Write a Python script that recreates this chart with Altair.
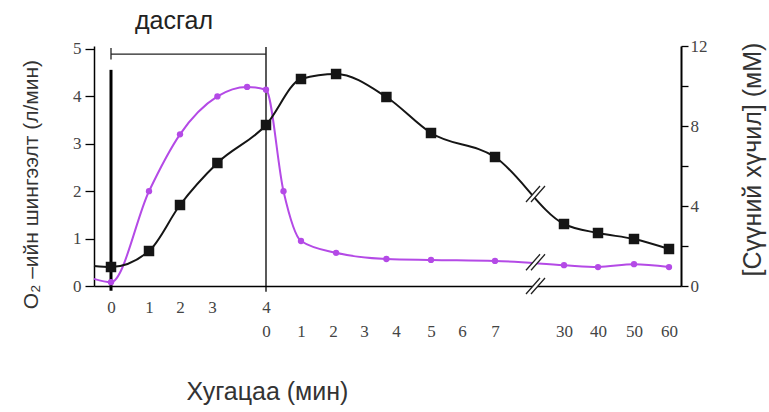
import altair as alt
import pandas as pd

# ---- data -------------------------------------------------------------
# O2 uptake (L/min). Exercise phase: minutes from the start of exercise.
EX_T_O2 = [0, 1, 2, 3.1, 3.65, 4]
EX_O2 = [0.08, 2.0, 3.2, 4.0, 4.2, 4.14]
# Recovery phase: minutes after exercise stopped.
REC_T_O2 = [0.5, 1, 2.1, 3.7, 5, 7, 30, 40, 50, 60]
REC_O2 = [2.0, 0.95, 0.70, 0.57, 0.55, 0.53, 0.44, 0.40, 0.46, 0.40]
REST_O2 = 0.15

# Blood lactate (mM)
EX_T_LAC = [0, 1, 2, 3.1, 4]
EX_LAC = [0.95, 1.75, 4.05, 6.15, 8.05]
REC_T_LAC = [1, 2.1, 3.7, 5, 7, 30, 40, 50, 60]
REC_LAC = [10.35, 10.6, 9.45, 7.65, 6.45, 3.1, 2.65, 2.35, 1.85]
REST_LAC = 1.0

# Axis ticks
EX_TICKS = [0, 1, 2, 3, 4]
REC_TICKS = [0, 1, 2, 3, 4, 5, 6, 7, 30, 40, 50, 60]
O2_TICKS = [0, 1, 2, 3, 4, 5]
LAC_TICKS = [0, 2, 4, 6, 8, 10, 12]

EXERCISE_LEN = 4      # minutes of exercise
BREAK_AT = 20.5       # recovery minute where the time axis is broken
BREAK_O2 = 0.5
BREAK_LAC = 4.6

TITLE_EX = "дасгал"
TITLE_X = "Хугацаа (мин)"
TITLE_O2 = "O₂ –ийн шингээлт  (л/мин)"
TITLE_LAC = "[Сүүний хүчил] (мМ)"

# ---- layout -------------------------------------------------------------
W, H = 587, 240
SANS = "Liberation Sans"
SERIF = "Liberation Serif"
PURPLE = "#b44ae6"
BLACK = "#151515"


def u_rec(r):
    """Recovery minute -> position on the joined time axis."""
    return EXERCISE_LEN + r


X_START = -0.45
# the time axis is hand spaced and broken between 7 and 30 min of recovery
X_KNOTS = [X_START, 0, 1, 2, 3, 4, 5, 6, 7, 8, 9, 10, 11, 34, 44, 54, 64, 66.5]
X_PIX = [0, 17, 55, 86, 118, 172, 207, 239, 270, 302, 337, 368, 401, 470, 504, 540, 575, W]

x_scale = alt.Scale(domain=X_KNOTS, range=X_PIX, zero=False, nice=False)

tick_u, tick_lab = [], []
for t in EX_TICKS:
    tick_u.append(t)
    tick_lab.append(f"{t}|0" if t == EXERCISE_LEN else f"{t}")
for r in REC_TICKS:
    if r == 0:
        continue
    tick_u.append(u_rec(r))
    tick_lab.append(f"|{r}")
expr = "''"
for uu, lab in reversed(list(zip(tick_u, tick_lab))):
    expr = f"datum.value == {uu} ? '{lab}' : ({expr})"
x_label_expr = f"split({expr}, '|')"

x_axis = alt.Axis(
    values=tick_u, labelExpr=x_label_expr, title=TITLE_X,
    ticks=False, tickSize=0, grid=False,
    domainColor="black", domainWidth=1.5,
    labelFont=SERIF, labelFontSize=17, labelColor="#444",
    labelBaseline="top", labelPadding=13, labelLineHeight=24,
    labelOverlap=False, labelFlush=False, labelBound=False,
    titleFont=SANS, titleFontSize=25, titleFontWeight="normal", titleColor="#333",
    titleX=173, titleY=105, titleAlign="center", titleBaseline="middle",
)

yl_scale = alt.Scale(domain=[0, 5.063], zero=False, nice=False)
yl_axis = alt.Axis(
    orient="left", values=O2_TICKS, grid=False, title=TITLE_O2,
    domainColor="black", domainWidth=1.5, tickColor="black", tickWidth=1.3, tickSize=9,
    labelFont=SERIF, labelFontSize=17, labelColor="#444", labelPadding=4,
    titleFont=SANS, titleFontSize=21, titleFontWeight="normal", titleColor="#333",
    titleAngle=270, titleX=-63, titleY=138, titleAlign="center", titleBaseline="middle",
)

yr_scale = alt.Scale(domain=[0, 12], zero=False, nice=False)
yr_axis = alt.Axis(
    orient="right", values=LAC_TICKS, grid=False, title=TITLE_LAC,
    labelExpr="datum.value % 4 == 0 ? datum.label : ''",
    domainColor="black", domainWidth=2, tickColor="black", tickWidth=1.3, tickSize=7,
    labelFont=SERIF, labelFontSize=17, labelColor="#444", labelPadding=2,
    titleFont=SANS, titleFontSize=25, titleFontWeight="normal", titleColor="#333",
    titleAngle=270, titleX=71, titleY=113, titleAlign="center", titleBaseline="middle",
)


def xe():
    return alt.X("u:Q", scale=x_scale, axis=x_axis)


def yl():
    return alt.Y("v:Q", scale=yl_scale, axis=yl_axis)


def yr():
    return alt.Y("c:Q", scale=yr_scale, axis=yr_axis)


# ---- tables ---------------------------------------------------------------
o2 = pd.DataFrame({
    "u": [X_START] + EX_T_O2 + [u_rec(r) for r in REC_T_O2],
    "v": [REST_O2] + EX_O2 + REC_O2,
    "mark": [False] + [True] * (len(EX_O2) + len(REC_O2)),
})
lac = pd.DataFrame({
    "u": [X_START] + EX_T_LAC + [u_rec(r) for r in REC_T_LAC],
    "c": [REST_LAC] + EX_LAC + REC_LAC,
    "mark": [False] + [True] * (len(EX_LAC) + len(REC_LAC)),
})

start_rule = pd.DataFrame({"u": [0], "v": [-0.1], "v2": [4.56]})
stop_rule = pd.DataFrame({"u": [EXERCISE_LEN], "v": [-0.12], "v2": [5.04]})
bracket = pd.DataFrame({"u": [0], "u2": [EXERCISE_LEN], "v": [4.89]})
bracket_end = pd.DataFrame({"u": [0], "v": [4.78], "v2": [5.02]})
ex_label = pd.DataFrame({"u": [EXERCISE_LEN / 2], "v": [5.42], "t": [TITLE_EX]})

brk_left = pd.DataFrame({"u": [u_rec(BREAK_AT)] * 2, "v": [BREAK_O2, 0]})
brk_right = pd.DataFrame({"u": [u_rec(BREAK_AT)], "c": [BREAK_LAC]})

SLASH = "M-0.95,0.8L0.45,-0.8M-0.45,0.8L0.95,-0.8"
GAP = "M-0.95,0.8L0.45,-0.8L0.95,-0.8L-0.45,0.8Z"


def breaks(df, y):
    gap = alt.Chart(df).mark_point(
        shape=GAP, filled=True, color="white", opacity=1, size=400, strokeWidth=0
    ).encode(x=xe(), y=y)
    slash = alt.Chart(df).mark_point(
        shape=SLASH, filled=False, color="#222", opacity=1, size=400, strokeWidth=1.3
    ).encode(x=xe(), y=y)
    return [gap, slash]


# ---- left (O2) layers --------------------------------------------------
left = alt.layer(
    alt.Chart(start_rule).mark_rule(color="black", strokeWidth=3).encode(
        x=xe(), y=yl(), y2="v2:Q"),
    alt.Chart(stop_rule).mark_rule(color="black", strokeWidth=1.3).encode(
        x=xe(), y=yl(), y2="v2:Q"),
    alt.Chart(bracket).mark_rule(color="#222", strokeWidth=1.3).encode(
        x=xe(), x2="u2:Q", y=yl()),
    alt.Chart(bracket_end).mark_rule(color="#222", strokeWidth=1.3).encode(
        x=xe(), y=yl(), y2="v2:Q"),
    alt.Chart(ex_label).mark_text(
        font=SANS, fontSize=25, color="#222", align="center", baseline="alphabetic", dx=-6
    ).encode(x=xe(), y=yl(), text="t:N"),
    alt.Chart(o2).mark_line(color=PURPLE, strokeWidth=2, interpolate="monotone").encode(
        x=xe(), y=yl()),
    alt.Chart(o2).transform_filter("datum.mark").mark_circle(
        color=PURPLE, size=40, opacity=1).encode(x=xe(), y=yl()),
    *breaks(brk_left, yl()),
)

# ---- right (lactate) layers ----------------------------------------------
right = alt.layer(
    alt.Chart(lac).mark_line(color=BLACK, strokeWidth=2, interpolate="monotone").encode(
        x=xe(), y=yr()),
    alt.Chart(lac).transform_filter("datum.mark").mark_square(
        color=BLACK, size=110, opacity=1).encode(x=xe(), y=yr()),
    *breaks(brk_right, yr()),
)

chart = (
    alt.layer(left, right)
    .resolve_scale(y="independent")
    .properties(
        width=W, height=H,
        autosize=alt.AutoSizeParams(type="none"),
        padding={"left": 94, "top": 46, "right": 88, "bottom": 126},
        background="white",
    )
    .configure_view(stroke=None)
)

chart.save("out.html", embed_options={"renderer": "svg", "actions": False})
